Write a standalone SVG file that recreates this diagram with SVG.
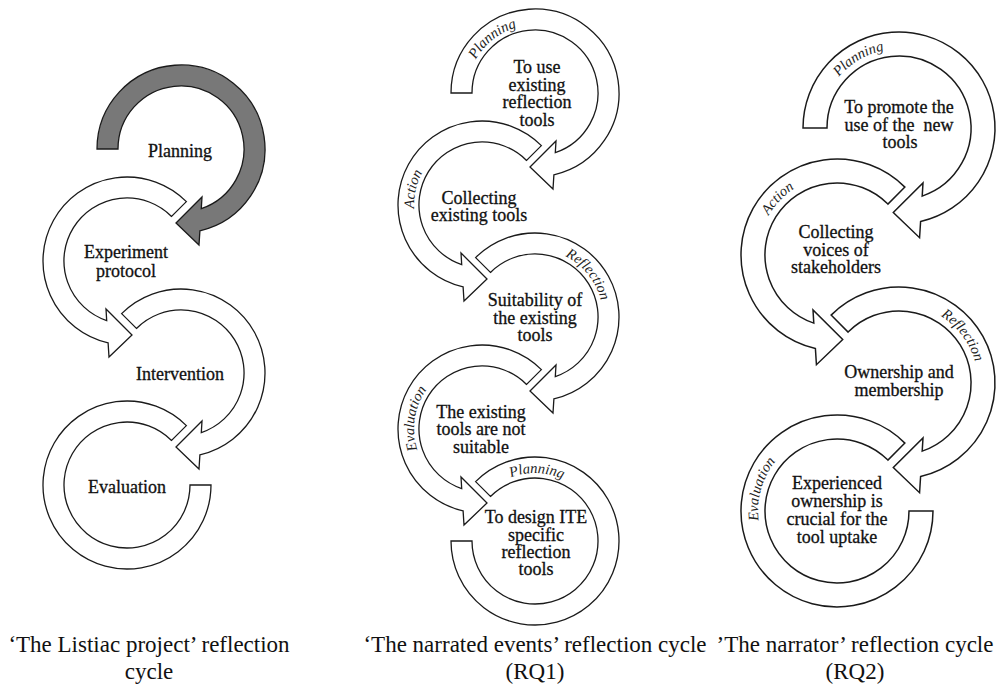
<svg xmlns="http://www.w3.org/2000/svg" xmlns:xlink="http://www.w3.org/1999/xlink" width="1007" height="685" viewBox="0 0 1007 685">
<style>
.arc{fill:#fff;stroke:#1a1a1a;stroke-width:1.3;stroke-linejoin:miter;vector-effect:non-scaling-stroke}
.dark{fill:#787878}
.t{font-family:"Liberation Serif","Times New Roman",serif;font-size:18px;text-anchor:middle;fill:#111;stroke:#111;stroke-width:0.3}
.lb{font-family:"Liberation Serif","Times New Roman",serif;font-style:italic;font-size:14.5px;fill:#222;text-anchor:middle}
.cap{font-family:"Liberation Serif","Times New Roman",serif;font-size:23px;text-anchor:middle;fill:#111}
</style>
<defs>
<path id="shA" d="M -84 0 A 84 84 0 1 1 18.9 81.85 L 18 96 L -5 74 L 21 48 L 20.3 59.6 A 63 63 0 1 0 -63 0 Z"/>
<path id="shB" d="M -59.397 -59.397 A 84 84 0 1 1 18.9 81.85 L 18 96 L -5 74 L 21 48 L 20.3 59.6 A 63 63 0 1 0 -44.548 -44.548 Z"/>
<path id="shC" d="M -59.397 -59.397 A 84 84 0 1 1 -84 0 L -63 0 A 63 63 0 1 0 -44.548 -44.548 Z"/>
<path id="lp" d="M 0 68 A 68 68 0 1 1 0 -68 A 68 68 0 1 1 0 68"/>
<path id="rp" d="M 0 79 A 79 79 0 1 1 0 -79 A 79 79 0 1 1 0 79"/>
</defs>
<rect width="1007" height="685" fill="#fff"/>

<!-- Left column: 'The Listiac project' reflection cycle -->
<g id="L-planning">
<use href="#shA" class="arc dark" transform="translate(181,149)"/>
<text class="t" x="180" y="157">Planning</text>
</g>
<g id="L-experiment">
<use href="#shB" class="arc" transform="translate(127,261) scale(-1,1)"/>
<text class="t" x="126" y="258">Experiment</text>
<text class="t" x="126" y="277">protocol</text>
</g>
<g id="L-intervention">
<use href="#shB" class="arc" transform="translate(181,373)"/>
<text class="t" x="180" y="380">Intervention</text>
</g>
<g id="L-evaluation">
<use href="#shC" class="arc" transform="translate(127,485) scale(-1,1)"/>
<text class="t" x="127" y="493">Evaluation</text>
</g>

<!-- Middle column: 'The narrated events' reflection cycle (RQ1) -->
<g id="M-planning">
<use href="#shA" class="arc" transform="translate(535,93)"/>
<g transform="translate(535,93)"><text class="lb"><textPath href="#lp" startOffset="168">Planning</textPath></text></g>
<text class="t" x="537" y="73">To use</text>
<text class="t" x="537" y="91">existing</text>
<text class="t" x="537" y="108">reflection</text>
<text class="t" x="537" y="126">tools</text>
</g>
<g id="M-action">
<use href="#shB" class="arc" transform="translate(482,205) scale(-1,1)"/>
<g transform="translate(482,205)"><text class="lb"><textPath href="#lp" startOffset="122">Action</textPath></text></g>
<text class="t" x="479" y="204">Collecting</text>
<text class="t" x="479" y="221">existing tools</text>
</g>
<g id="M-reflection">
<use href="#shB" class="arc" transform="translate(535,317)"/>
<g transform="translate(535,317)"><text class="lb"><textPath href="#lp" startOffset="274">Reflection</textPath></text></g>
<text class="t" x="535" y="306">Suitability of</text>
<text class="t" x="535" y="324">the existing</text>
<text class="t" x="535" y="341">tools</text>
</g>
<g id="M-evaluation">
<use href="#shB" class="arc" transform="translate(482,429) scale(-1,1)"/>
<g transform="translate(482,429)"><text class="lb"><textPath href="#lp" startOffset="117">Evaluation</textPath></text></g>
<text class="t" x="481" y="418">The existing</text>
<text class="t" x="481" y="435">tools are not</text>
<text class="t" x="481" y="453">suitable</text>
</g>
<g id="M-planning2">
<use href="#shC" class="arc" transform="translate(535,541)"/>
<g transform="translate(535,541)"><text class="lb"><textPath href="#lp" startOffset="215">Planning</textPath></text></g>
<text class="t" x="536" y="523">To design ITE</text>
<text class="t" x="536" y="541">specific</text>
<text class="t" x="536" y="558">reflection</text>
<text class="t" x="536" y="575">tools</text>
</g>

<!-- Right column: 'The narrator' reflection cycle (RQ2) -->
<g id="R-planning">
<use href="#shA" class="arc" transform="translate(899,128) scale(1.142857)"/>
<g transform="translate(899,128)"><text class="lb"><textPath href="#rp" startOffset="206">Planning</textPath></text></g>
<text class="t" x="899" y="113">To promote the</text>
<text class="t" x="899" y="131" xml:space="preserve">use of the  new</text>
<text class="t" x="900" y="148">tools</text>
</g>
<g id="R-action">
<use href="#shB" class="arc" transform="translate(837,255) scale(-1.142857,1.142857)"/>
<g transform="translate(837,255)"><text class="lb"><textPath href="#rp" startOffset="184">Action</textPath></text></g>
<text class="t" x="836" y="238">Collecting</text>
<text class="t" x="836" y="256">voices of</text>
<text class="t" x="836" y="273">stakeholders</text>
</g>
<g id="R-reflection">
<use href="#shB" class="arc" transform="translate(899,383) scale(1.142857)"/>
<g transform="translate(899,383)"><text class="lb"><textPath href="#rp" startOffset="321">Reflection</textPath></text></g>
<text class="t" x="899" y="378">Ownership and</text>
<text class="t" x="899" y="396">membership</text>
</g>
<g id="R-evaluation">
<use href="#shC" class="arc" transform="translate(837,511) scale(-1.142857,1.142857)"/>
<g transform="translate(837,511)"><text class="lb"><textPath href="#rp" startOffset="146">Evaluation</textPath></text></g>
<text class="t" x="837" y="489">Experienced</text>
<text class="t" x="837" y="507">ownership is</text>
<text class="t" x="837" y="525">crucial for the</text>
<text class="t" x="837" y="543">tool uptake</text>
</g>

<g id="connectors"></g>

<g id="captions">
<text class="cap" x="149" y="652">‘The Listiac project’ reflection</text>
<text class="cap" x="149" y="679">cycle</text>
<text class="cap" x="535" y="652">‘The narrated events’ reflection cycle</text>
<text class="cap" x="535" y="679">(RQ1)</text>
<text class="cap" x="855" y="652">’The narrator’ reflection cycle</text>
<text class="cap" x="855" y="679">(RQ2)</text>
</g>
</svg>
